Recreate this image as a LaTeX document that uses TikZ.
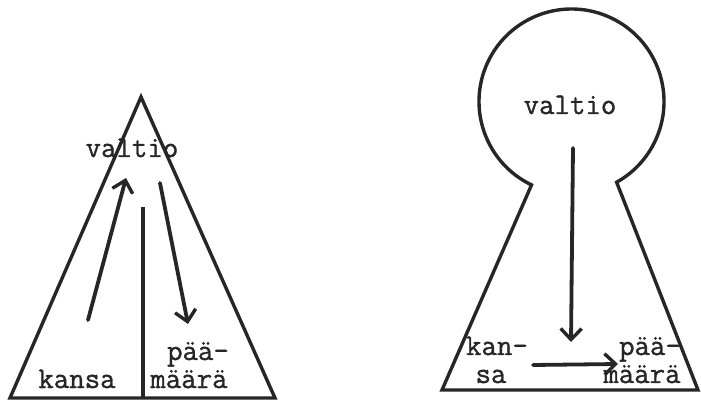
\documentclass[tikz,border=0pt]{standalone}
\usepackage{fontspec}
\newfontfamily\typew[AutoFakeBold=1.2]{Latin Modern Mono}
\usetikzlibrary{arrows.meta,calc}
\begin{document}
\begin{tikzpicture}[x=1pt,y=1pt,
  shape line/.style={line width=3.4pt, line join=miter, color=black!85},
  flow/.style={line width=3.8pt, line cap=round, color=black!85, -{Straight Barb[length=11pt,width=21pt,line width=3.4pt]}},
  lbl/.style={font=\fontsize{30}{35}\selectfont\typew\bfseries, text=black!85, inner sep=0pt, anchor=base}]
\useasboundingbox (0,0) rectangle (701,404);
% left triangle
\coordinate (tl) at (10,6);
\coordinate (tr) at (275,6);
\coordinate (ta) at (141,307);
\draw[shape line] (tl) -- (ta) -- (tr) -- cycle;
\coordinate (vtop) at (143,197);
\coordinate (vbot) at (143,6);
\draw[shape line, line width=3.8pt] (vtop) -- (vbot);
\coordinate (u1) at (88,84);
\coordinate (u2) at (126,226);
\draw[flow] (u1) -- (u2);
\coordinate (d1) at (160,221);
\coordinate (d2) at (188,80);
\draw[flow] (d1) -- (d2);
\node[lbl] (valtioL) at (132,247) {valtio};
\node[lbl] (kansaL) at (77,16) {kansa};
\node[lbl] (paaL) at (198,44) {pää-};
\node[lbl] (maaraL) at (189,16) {määrä};
% right keyhole
\coordinate (c) at (571.5,302.5);
\coordinate (bl) at (442,14);
\coordinate (br) at (698,14);
\draw[shape line] (bl) -- ($(c)+(244.4:92.5)$) arc[start angle=244.4, end angle=-60.8, radius=92.5] -- (br) -- cycle;
\node[lbl] (valtioR) at (570,290) {valtio};
\coordinate (r1) at (573,256);
\coordinate (r2) at (571,62);
\draw[flow] (r1) -- (r2);
\coordinate (h1) at (533,39);
\coordinate (h2) at (618,40);
\draw[flow] (h1) -- (h2);
\node[lbl] (kanR) at (497,49) {kan-};
\node[lbl] (saR) at (491,21) {sa};
\node[lbl] (paaR) at (650,49) {pää-};
\node[lbl] (maaraR) at (642,21) {määrä};
\end{tikzpicture}
\end{document}
